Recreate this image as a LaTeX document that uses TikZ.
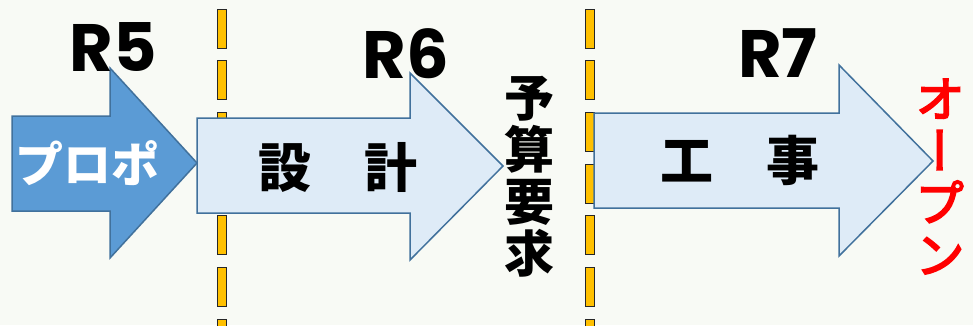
\documentclass[tikz,border=0pt]{standalone}
\usepackage{fontspec}
\setmainfont{Poppins}
\newfontfamily\jpfont{Noto Sans CJK JP}
\newfontfamily\jpvert[RawFeature=+vert,FakeBold=3.5]{Noto Sans CJK JP}
\definecolor{bgcol}{RGB}{248,250,245}
\definecolor{edgeblue}{RGB}{65,113,156}
\definecolor{darkblue}{RGB}{91,155,213}
\definecolor{paleblue}{RGB}{222,235,247}
\definecolor{dashgold}{RGB}{255,192,0}

\begin{document}
\begin{tikzpicture}[x=1pt,y=-1pt,
		phasearrow/.style={draw=edgeblue,line width=1.5pt,line join=miter},
		dashbar/.style={draw=black!85,line width=0.8pt,fill=dashgold},
		yearlbl/.style={inner sep=0pt,font=\fontsize{67}{67}\selectfont\bfseries},
		phaselbl/.style={inner sep=0pt,font=\jpfont\fontsize{53}{53}\selectfont\bfseries},
		vertlbl/.style={inner sep=0pt,align=center,font=\jpvert\fontsize{50}{52}\selectfont}
	]
	\fill[bgcol] (0,0) rectangle (973,325);
	\useasboundingbox (0,0) rectangle (973,325);

	% dashed year borders
	\begin{scope}
		\clip (0,0) rectangle (973,325);
		\foreach \x in {222,589.5}
			\foreach \i in {0,...,6}
				\draw[dashbar] (\x-4.5,9+51.7*\i) rectangle (\x+4.5,48+51.7*\i);
	\end{scope}

	% phases
	\draw[phasearrow,fill=darkblue] (12,116) -- (110,116) -- (110,68) -- (197,163)
		-- (110,258) -- (110,211) -- (12,211) -- cycle;
	\draw[phasearrow,fill=paleblue] (197,118) -- (410,118) -- (410,73) -- (503,166)
		-- (410,260) -- (410,213) -- (197,213) -- cycle;
	\draw[phasearrow,fill=paleblue] (594,113) -- (839,113) -- (839,65) -- (933,161)
		-- (839,256) -- (839,208) -- (594,208) -- cycle;

	% years
	\node[yearlbl] (r5) at (113.5,47) {R5};
	\node[yearlbl] (r6) at (406,54) {R6};
	\node[yearlbl] (r7) at (778,53.5) {R7};

	% labels
	\node[phaselbl,white,font=\jpfont\fontsize{48}{48}\selectfont\bfseries] (propo) at (87,163) {プロポ};
	\node[phaselbl] (sekkei) at (337.5,167) {設　計};
	\node[phaselbl] (kouji) at (740,160) {工　事};
	\node[vertlbl,font=\jpfont\fontsize{50}{52}\selectfont\bfseries] (yosan) at (529,176.5) {予\\算\\要\\求};
	\node[vertlbl,red] (open) at (940,176.5) {オ\\ー\\プ\\ン};
\end{tikzpicture}
\end{document}
